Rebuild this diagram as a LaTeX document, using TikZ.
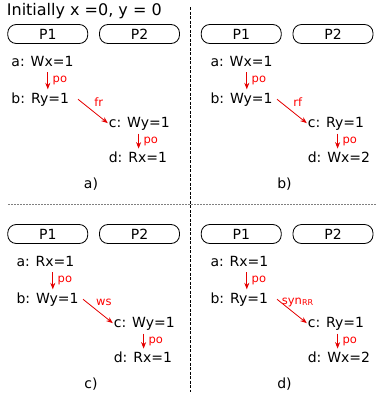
\documentclass[tikz,border=0pt]{standalone}
\usepackage{fontspec}
\setmainfont{DejaVu Sans}
\usetikzlibrary{arrows.meta}
\tikzset{
  proc/.style={draw, rounded corners=8.5pt, minimum width=80pt, minimum height=19pt,
    line width=0.8pt, font=\fontsize{14}{16}\selectfont},
  op/.style={anchor=base west, inner xsep=0pt, inner ysep=3pt, text height=10.5pt,
    text depth=3pt, font=\fontsize{14}{16}\selectfont},
  rel/.style={red!90!black, line width=0.8pt, -{Stealth[length=6.5pt, width=5pt]}},
  rlab/.style={red, inner sep=0pt, font=\fontsize{11.5}{13}\selectfont},
}

\begin{document}
\begin{tikzpicture}[x=1pt, y=-1pt]
  \useasboundingbox (0,0) rectangle (377,402);
  \node[anchor=base west, inner sep=0pt, font=\fontsize{16}{19}\selectfont] (init) at (6.7,15) {Initially x =0, y = 0};
  % dividers
  \draw[dash pattern=on 3pt off 1.5pt, line width=0.7pt] (190,7) -- (190,392);
  \draw[gray, dash pattern=on 2pt off 1pt, line width=1pt] (8,204) -- (376,204);
  % one panel per case
  \foreach \bx/\nx/\dy/\ta/\tb/\tc/\td/\rl/\lab in {
      0/0/0/{a: Wx=1}/{b: Ry=1}/{c: Wy=1}/{d: Rx=1}/fr/a,
      193.5/199/0/{a: Wx=1}/{b: Wy=1}/{c: Ry=1}/{d: Wx=2}/rf/b,
      0/5/200/{a: Rx=1}/{b: Wy=1}/{c: Wy=1}/{d: Rx=1}/ws/c,
      193.5/199/200/{a: Rx=1}/{b: Ry=1}/{c: Ry=1}/{d: Wx=2}/{syn\textsubscript{RR}}/d} {
    \begin{scope}[shift={(\bx,\dy)}]
      \node[proc] (p1) at (47.75,34) {P1};
      \node[proc] (p2) at (139.5,34) {P2};
      \node[font=\fontsize{14}{16}\selectfont] (sub) at (91,184.5) {\lab)};
    \end{scope}
    \begin{scope}[shift={(\nx,\dy)}]
      \node[op] (a) at (11.3,66) {\ta};
      \node[op] (b) at (11.3,103) {\tb};
      \node[op] (c) at (108.6,127.5) {\tc};
      \node[op] (d) at (108.6,162.3) {\td};
      \draw[rel] ([xshift=36.5]a.south west) -- node[rlab, right=4.5pt] {po} ([xshift=36.5]b.north west);
      \draw[rel] ([xshift=30]c.south west) -- node[rlab, right=4.5pt] {po} ([xshift=30]d.north west);
      \draw[rel, shorten >=1pt] ([xshift=66.7]b.west) -- node[rlab, xshift=5.5pt, yshift=9.5pt] {\rl} (c.west);
    \end{scope}
  }
\end{tikzpicture}
\end{document}
